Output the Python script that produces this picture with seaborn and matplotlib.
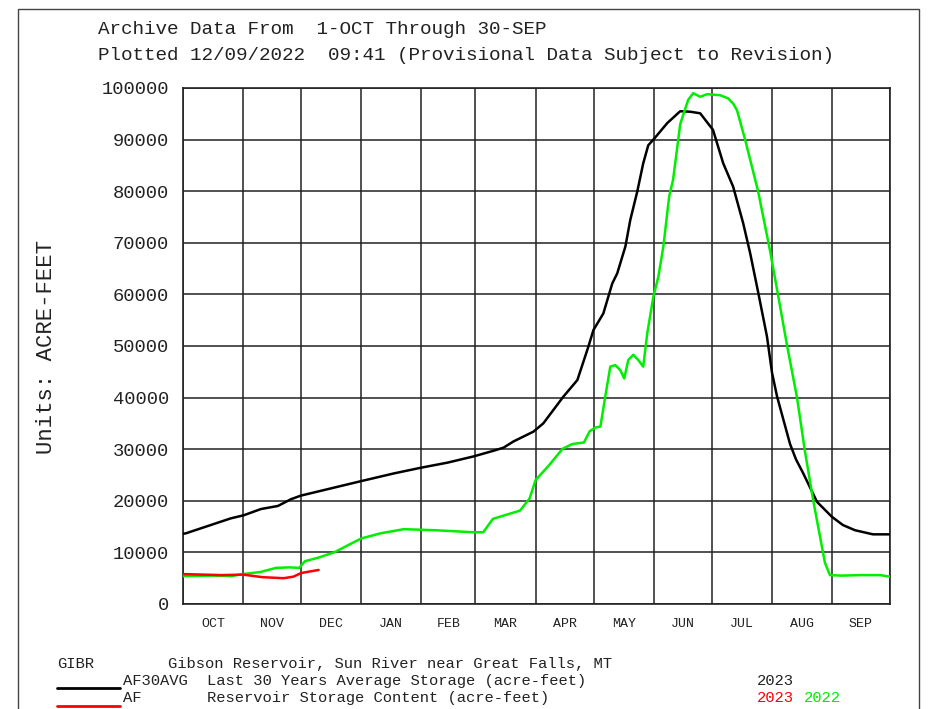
import pandas as pd
import seaborn as sns
import matplotlib.pyplot as plt
from matplotlib.lines import Line2D
from matplotlib.patches import Rectangle

# day of water year (0 = 1-OCT), storage in acre-feet
avg_days = [0, 1.5, 24.7, 31.4, 40.2, 49, 55.7, 60.8, 76.3, 91.8, 108.8, 122.7, 136.6,
            150, 160.3, 165.5, 170.6, 180.9, 186, 196.4, 203.6, 209.3, 211.9, 217,
            221.6, 224.2, 228.4, 230.9, 234.5, 237.6, 240.2, 243.3, 250, 256.7,
            261.9, 267, 273.6, 278.9, 284, 289.2, 292.8, 297, 301.5, 304.1, 306.7,
            313.4, 316.5, 320.1, 327.3, 335, 340.7, 346.9, 356.2, 365]
avg_af = [13600, 13700, 16600, 17200, 18400, 19000, 20300, 21000, 22400, 23800, 25300,
          26400, 27400, 28600, 29700, 30300, 31500, 33400, 35000, 40200, 43400, 49900,
          53100, 56300, 62100, 64100, 69300, 74400, 79900, 85400, 88900, 90200, 93200,
          95500, 95400, 95100, 91900, 85400, 80900, 73800, 68000, 60300, 51800, 44800,
          40200, 31000, 28000, 25400, 19800, 16900, 15300, 14300, 13500, 13500]

wy2022_days = [0, 15, 25, 31, 40, 48, 55, 60, 63, 70, 78, 92, 102, 114, 130, 150, 155,
               160, 174, 179, 182, 189, 196, 201, 207, 210, 213, 215.5, 218, 220.6,
               223.2, 225.8, 227.8, 229.9, 232.5, 235, 237.6, 239.7, 242.8, 245.4,
               248, 251, 253, 256.7, 260.8, 263.4, 267, 270.6, 277.3, 281.4, 284,
               286, 290.2, 296.9, 303, 307.2, 311.9, 317, 321, 325.3, 331.4, 334,
               340, 350, 360, 365]
wy2022_af = [5400, 5500, 5400, 5800, 6200, 7000, 7100, 7000, 8300, 9000, 10000, 12700,
             13700, 14500, 14300, 13900, 13900, 16500, 18100, 20500, 24000, 26900,
             30100, 31000, 31300, 33500, 34200, 34400, 40200, 46000, 46300, 45300,
             43700, 47300, 48300, 47300, 46000, 52500, 59500, 63400, 69300, 79000,
             82200, 93000, 97700, 99000, 98300, 98800, 98600, 98000, 97000, 95700,
             90000, 80000, 68600, 59900, 50000, 40000, 29800, 20200, 8000, 5600,
             5500, 5600, 5600, 5300]

wy2023_days = [0, 10, 20, 31, 41, 52, 57, 61, 70]
wy2023_af = [5800, 5700, 5600, 5700, 5200, 5000, 5300, 6000, 6600]

month_starts = [0, 31, 61, 92, 123, 151, 182, 212, 243, 273, 304, 335, 365]
month_names = ["OCT", "NOV", "DEC", "JAN", "FEB", "MAR", "APR", "MAY", "JUN",
               "JUL", "AUG", "SEP"]

sns.set_style("white")
plt.rcParams['font.family'] = ['Liberation Mono', 'DejaVu Sans']

W, H = 934, 709
fig = plt.figure(figsize=(W / 100, H / 100), dpi=100)
ax = fig.add_axes([183 / W, 1 - 604 / H, (890 - 183) / W, (604 - 88) / H])


def px(x, y):
    return x / W, 1 - y / H


avg = pd.DataFrame({"day": avg_days, "af": avg_af})
g22 = pd.DataFrame({"day": wy2022_days, "af": wy2022_af})
r23 = pd.DataFrame({"day": wy2023_days, "af": wy2023_af})

sns.lineplot(data=avg, x="day", y="af", ax=ax, color="black", lw=1.8, zorder=3)
sns.lineplot(data=g22, x="day", y="af", ax=ax, color="#00ee00", lw=1.8, zorder=3)
sns.lineplot(data=r23, x="day", y="af", ax=ax, color="#ff0000", lw=1.8, zorder=4)

ax.set_xlim(0, 365)
ax.set_ylim(0, 100000)
ax.set_xlabel("")
ax.set_ylabel("")

ax.set_xticks(month_starts)
ax.set_xticklabels([])
mids = [(a + b) / 2 for a, b in zip(month_starts[:-1], month_starts[1:])]
ax.set_xticks(mids, minor=True)
ax.set_xticklabels(month_names, minor=True, fontsize=9.5, color="#222")
ax.tick_params(axis="x", which="major", length=8, width=1.2, color="#222")
ax.tick_params(axis="x", which="minor", length=0, pad=10)

ax.set_yticks(range(0, 100001, 10000))
ax.set_yticklabels([str(v) for v in range(0, 100001, 10000)], fontsize=13.5, color="#222")
ax.tick_params(axis="y", length=8, width=1.2, color="#222", pad=2)

ax.grid(True, which="major", color="#222", lw=1.1)
for s in ax.spines.values():
    s.set_color("#222")
    s.set_linewidth(1.2)

tc = "#222"
fig.text(*px(98, 29), "Archive Data From  1-OCT Through 30-SEP", fontsize=13.88,
         va="center", color=tc)
fig.text(*px(98, 55), "Plotted 12/09/2022  09:41 (Provisional Data Subject to Revision)",
         fontsize=13.88, va="center", color=tc)
fig.text(*px(47, 347), "Units: ACRE-FEET", fontsize=16, rotation=90,
         ha="center", va="center", color=tc)

fs = 11.15
fig.text(*px(57, 664), "GIBR", fontsize=fs, va="center", color=tc)
fig.text(*px(168, 664), "Gibson Reservoir, Sun River near Great Falls, MT", fontsize=fs,
         va="center", color=tc)
fig.text(*px(123, 681), "AF30AVG", fontsize=fs, va="center", color=tc)
fig.text(*px(207, 681), "Last 30 Years Average Storage (acre-feet)", fontsize=fs,
         va="center", color=tc)
fig.text(*px(757, 681), "2023", fontsize=fs, va="center", color=tc)
fig.text(*px(123, 698), "AF", fontsize=fs, va="center", color=tc)
fig.text(*px(207, 698), "Reservoir Storage Content (acre-feet)", fontsize=fs,
         va="center", color=tc)
fig.text(*px(757, 698), "2023", fontsize=fs, va="center", color="#ff0000")
fig.text(*px(804, 698), "2022", fontsize=fs, va="center", color="#00ee00")

fig.add_artist(Line2D([57 / W, 120 / W], [1 - 688 / H, 1 - 688 / H], color="black", lw=2))
fig.add_artist(Line2D([57 / W, 120 / W], [1 - 706 / H, 1 - 706 / H], color="#ff0000", lw=2))

fig.add_artist(Rectangle((18 / W, 1 - 740 / H), (919 - 18) / W, (740 - 9) / H,
                         fill=False, edgecolor="#444", lw=1))

fig.savefig("out.png", dpi=100)
